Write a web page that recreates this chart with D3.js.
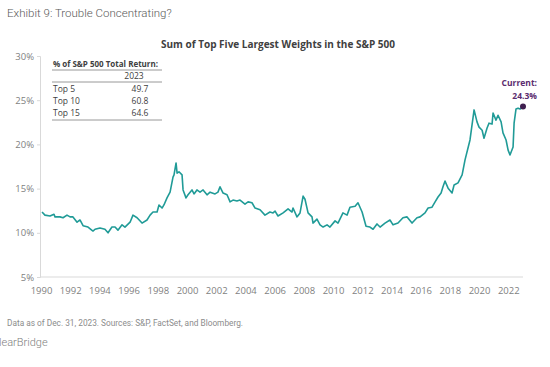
<!DOCTYPE html>
<html>
<head>
<meta charset="utf-8" />
<title>Trouble Concentrating</title>
<script src="https://cdn.jsdelivr.net/npm/d3@7"></script>
<style>
  body { margin: 0; background: #fff; }
  .axis path, .axis line { stroke: #d9d9d9; }
  .axis text { fill: #7f7f7f; font-family: "Open Sans", sans-serif; font-size: 9.5px; }
</style>
</head>
<body>
<div id="chart"></div>
<script>
// values (decimal year, % weight of top five)
var years = [1990.07,1990.27,1990.62,1990.89,1990.96,1991.30,1991.51,1991.78,1991.99,1992.19,
  1992.47,1992.67,1992.88,1993.22,1993.56,1993.70,1994.04,1994.38,1994.59,1994.86,
  1995.07,1995.27,1995.55,1995.75,1996.10,1996.30,1996.58,1996.92,1997.26,1997.47,
  1997.67,1997.95,1998.08,1998.29,1998.42,1998.63,1998.84,1999.04,1999.11,1999.25,
  1999.32,1999.45,1999.66,1999.73,1999.93,2000.07,2000.34,2000.48,2000.68,2000.89,
  2001.10,2001.37,2001.58,2001.92,2002.12,2002.26,2002.47,2002.74,2002.95,2003.15,
  2003.42,2003.63,2003.97,2004.18,2004.45,2004.66,2005.00,2005.34,2005.68,2005.89,
  2006.03,2006.23,2006.58,2006.92,2007.19,2007.26,2007.53,2007.74,2007.95,2008.08,
  2008.29,2008.56,2008.63,2008.90,2009.11,2009.32,2009.59,2009.79,2010.14,2010.34,
  2010.68,2010.96,2011.16,2011.51,2011.71,2011.99,2012.26,2012.53,2012.74,2013.01,
  2013.22,2013.56,2013.90,2014.11,2014.45,2014.79,2015.07,2015.41,2015.75,2015.96,
  2016.30,2016.51,2016.78,2016.99,2017.19,2017.40,2017.53,2017.67,2017.88,2018.15,
  2018.29,2018.56,2018.84,2019.04,2019.38,2019.66,2019.86,2020.00,2020.21,2020.34,
  2020.55,2020.68,2020.89,2020.96,2021.16,2021.30,2021.51,2021.64,2021.85,2021.99,
  2022.12,2022.33,2022.40,2022.53,2022.67,2022.81,2023.01];
var weights = [12.35,12.0,11.9,12.1,11.8,11.8,11.7,12.0,11.8,11.8,
  11.2,11.45,10.8,10.65,10.2,10.4,10.55,10.4,10.0,10.65,
  10.65,10.3,10.9,10.65,11.2,12.0,11.7,11.1,11.45,12.0,
  12.35,12.35,13.15,12.8,13.15,13.95,14.6,16.3,16.55,17.9,
  16.75,16.9,16.55,14.85,13.95,14.3,14.85,14.4,14.85,14.6,
  14.85,14.3,14.6,14.4,14.6,15.2,14.5,14.3,13.5,13.7,
  13.6,13.7,13.25,13.5,13.4,12.8,12.6,12.0,12.35,12.25,
  12.45,11.9,12.25,12.7,12.35,12.8,11.8,12.25,14.15,13.8,
  12.25,11.8,11.1,11.55,10.9,10.65,10.9,10.65,11.35,11.1,
  12.25,12.0,12.9,13.0,13.4,12.35,10.75,10.65,10.4,11.0,
  10.65,11.1,11.45,10.9,11.1,11.7,11.8,11.1,11.7,11.8,
  12.25,12.8,12.9,13.5,14.05,14.5,15.2,15.85,15.05,14.5,
  15.4,15.65,16.55,18.25,20.5,23.9,22.55,21.95,21.6,20.7,
  21.85,22.4,22.3,23.55,22.75,23.3,22.55,21.3,20.5,19.35,
  18.8,19.7,22.4,24.0,24.1,24.0,24.3];

var xTicks = [1990,1992,1994,1996,1998,2000,2002,2004,2006,2008,2010,2012,2014,2016,2018,2020,2022];
var yTicks = [5,10,15,20,25,30];

var tableRows = ["Top 5", "Top 10", "Top 15"];
var tableVals = ["49.7", "60.8", "64.6"];

var data = years.map(function (y, i) { return { year: y, value: weights[i] }; });

var width = 550, height = 367;
var svg = d3.select("#chart").append("svg")
    .attr("width", width)
    .attr("height", height)
    .style("font-family", "'Open Sans', sans-serif");

var x = d3.scaleLinear().domain([1990, 2023.01]).range([41, 523]);
var y = d3.scaleLinear().domain([5, 30]).range([277, 56]);

// exhibit title
svg.append("text")
    .attr("x", 7).attr("y", 17)
    .attr("fill", "#595959")
    .style("font-family", "Roboto, sans-serif")
    .style("font-weight", "300")
    .style("font-size", "11.5px")
    .text("Exhibit 9: Trouble Concentrating?");

// chart title
svg.append("text")
    .attr("x", 278).attr("y", 48)
    .attr("text-anchor", "middle")
    .attr("fill", "#404040")
    .style("font-weight", "700")
    .style("font-size", "10px")
    .text("Sum of Top Five Largest Weights in the S&P 500");

// axes
var yAxis = d3.axisLeft(y)
    .tickValues(yTicks)
    .tickSize(3)
    .tickPadding(3)
    .tickFormat(function (d) { return d + "%"; });

svg.append("g")
    .attr("class", "axis")
    .attr("transform", "translate(40,0)")
    .call(yAxis);

var xAxis = d3.axisBottom(x)
    .tickValues(xTicks)
    .tickSize(0)
    .tickPadding(10)
    .tickFormat(d3.format("d"));

svg.append("g")
    .attr("class", "axis")
    .attr("transform", "translate(0,277)")
    .call(xAxis)
    .select(".domain")
    .attr("d", "M40,0H523");

// line
var line = d3.line()
    .x(function (d) { return x(d.year); })
    .y(function (d) { return y(d.value); });

svg.append("path")
    .datum(data)
    .attr("fill", "none")
    .attr("stroke", "#209b97")
    .attr("stroke-width", 1.6)
    .attr("stroke-linejoin", "round")
    .attr("d", line);

// current marker
var last = data[data.length - 1];
svg.append("circle")
    .attr("cx", x(last.year))
    .attr("cy", y(last.value))
    .attr("r", 3)
    .attr("fill", "#3f1f4f");

svg.append("text")
    .attr("x", 537).attr("y", 86)
    .attr("text-anchor", "end")
    .attr("fill", "#5b2c6f")
    .style("font-weight", "700")
    .style("font-size", "8.5px")
    .text("Current:");
svg.append("text")
    .attr("x", 537).attr("y", 99)
    .attr("text-anchor", "end")
    .attr("fill", "#5b2c6f")
    .style("font-weight", "700")
    .style("font-size", "8.5px")
    .text(last.value + "%");

// small table
var tbl = svg.append("g").attr("fill", "#404040").style("font-size", "8.5px");
tbl.append("text")
    .attr("x", 53).attr("y", 67)
    .style("font-weight", "700")
    .style("font-size", "8px")
    .text("% of S&P 500 Total Return:");
tbl.append("line").attr("x1", 52).attr("x2", 162).attr("y1", 70).attr("y2", 70).attr("stroke", "#7f7f7f").attr("stroke-width", 0.8);
tbl.append("text")
    .attr("x", 134).attr("y", 79)
    .attr("text-anchor", "middle")
    .text("2023");
tbl.append("line").attr("x1", 52).attr("x2", 162).attr("y1", 82).attr("y2", 82).attr("stroke", "#7f7f7f").attr("stroke-width", 0.8);
tableRows.forEach(function (r, i) {
    tbl.append("text").attr("x", 53).attr("y", 92 + i * 12).text(r);
    tbl.append("text").attr("x", 140).attr("y", 92 + i * 12).attr("text-anchor", "middle").text(tableVals[i]);
});
tbl.append("line").attr("x1", 52).attr("x2", 162).attr("y1", 120).attr("y2", 120).attr("stroke", "#7f7f7f").attr("stroke-width", 0.8);

// footnote
svg.append("text")
    .attr("x", 7).attr("y", 326)
    .attr("fill", "#8c8c8c")
    .style("font-family", "Roboto, sans-serif")
    .style("font-size", "8.3px")
    .text("Data as of Dec. 31, 2023. Sources: S&P, FactSet, and Bloomberg.");

svg.append("text")
    .attr("x", -1).attr("y", 346)
    .attr("fill", "#808080")
    .style("font-family", "Roboto, sans-serif")
    .style("font-weight", "300")
    .style("font-size", "11px")
    .text("learBridge");
</script>
</body>
</html>
